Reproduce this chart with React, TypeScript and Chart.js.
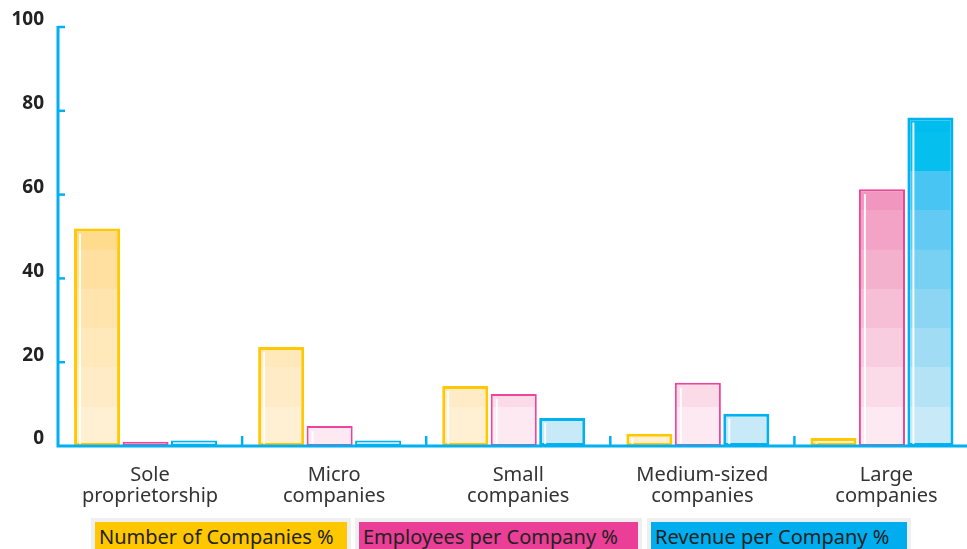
import React, { useEffect, useRef } from 'react';
import { Chart, registerables } from 'chart.js';

Chart.register(...registerables);

const categories: string[][] = [
  ['Sole', 'proprietorship'],
  ['Micro', 'companies'],
  ['Small', 'companies'],
  ['Medium-sized', 'companies'],
  ['Large', 'companies'],
];
const seriesNames = ['Number of Companies %', 'Employees per Company %', 'Revenue per Company %'];
const numberOfCompanies = [51.9, 23.6, 14.3, 2.9, 1.9];
const employeesPerCompany = [1.0, 4.8, 12.4, 15.1, 61.3];
const revenuePerCompany = [1.3, 1.3, 6.7, 7.7, 78.4];
const yTicks = [0, 20, 40, 60, 80, 100];

const seriesBorder = ['#ffc800', '#ee4499', '#00b2f0'];
const legendColors = ['#ffc700', '#eb3e96', '#00aeef'];
const seriesBorderWidth = [3, 2, 3];
const bandStep = 9.38;
const bandColors: string[][] = [
  ['#fff0d4', '#ffecc7', '#ffe8ba', '#ffe4ad', '#ffe0a0', '#ffdb8e', '#ffd67c', '#ffd26a', '#ffcd55', '#ffc940', '#ffc52a'],
  ['#fce9f1', '#fadbe7', '#f8cddf', '#f6bfd6', '#f4b1ce', '#f2a3c6', '#f096bf', '#ee88b8', '#ec7ab0', '#ea6ca8', '#e85ea0'],
  ['#c8e9f7', '#b5e3f6', '#a1dcf5', '#8cd6f4', '#78d0f3', '#62caf3', '#48c5f2', '#05c0ef', '#00bdee', '#00baee', '#00b8ee'],
];
const AXIS = '#00b0f0';
const FONT = '"Noto Sans", "Open Sans", sans-serif';
const SHIFT = 4.5;

function bandFill(seriesIndex: number) {
  return (ctx: any) => {
    const chart = ctx.chart;
    const cols = bandColors[seriesIndex];
    if (!chart.chartArea) return cols[0];
    const y = chart.scales.y;
    const n = cols.length;
    const y0 = y.getPixelForValue(0);
    const y1 = y.getPixelForValue(bandStep * n);
    const g = chart.ctx.createLinearGradient(0, y0, 0, y1);
    for (let k = 0; k < n; k++) {
      g.addColorStop(k / n, cols[k]);
      g.addColorStop(Math.min(1, (k + 1) / n - 0.0001), cols[k]);
    }
    return g;
  };
}

const decorPlugin = {
  id: 'decor',
  afterDatasetsDraw(chart: any) {
    const { ctx, chartArea: a, scales } = chart;
    ctx.save();
    chart.data.datasets.forEach((_ds: any, i: number) => {
      const meta = chart.getDatasetMeta(i);
      meta.data.forEach((bar: any) => {
        const { x, y, base, width } = bar.getProps(['x', 'y', 'base', 'width'], true);
        const h = base - y;
        if (h < 7) return;
        const lx = x - width / 2 + 6;
        ctx.strokeStyle = 'rgba(255,255,255,0.92)';
        ctx.lineWidth = 2;
        ctx.beginPath();
        ctx.moveTo(lx, y + 5);
        ctx.lineTo(lx, base - 2);
        ctx.stroke();
      });
    });
    const ax = a.left + SHIFT;
    ctx.strokeStyle = AXIS;
    ctx.lineWidth = 3;
    ctx.beginPath();
    ctx.moveTo(ax, a.top - 1);
    ctx.lineTo(ax, a.bottom);
    ctx.moveTo(ax - 1.5, a.bottom);
    ctx.lineTo(a.right + 10, a.bottom);
    ctx.stroke();
    ctx.lineWidth = 2.5;
    yTicks.forEach((v) => {
      if (v === 0) return;
      const py = scales.y.getPixelForValue(v);
      ctx.beginPath();
      ctx.moveTo(ax, py);
      ctx.lineTo(ax + 7, py);
      ctx.stroke();
    });
    for (let i = 1; i < categories.length; i++) {
      const px = (scales.x.getPixelForValue(i - 1) + scales.x.getPixelForValue(i)) / 2 + SHIFT;
      ctx.beginPath();
      ctx.moveTo(px, a.bottom);
      ctx.lineTo(px, a.bottom - 10);
      ctx.stroke();
    }
    ctx.restore();
  },
};

export default function App() {
  const ref = useRef<HTMLCanvasElement | null>(null);
  useEffect(() => {
    if (!ref.current) return;
    const values = [numberOfCompanies, employeesPerCompany, revenuePerCompany];
    const chart = new Chart(ref.current, {
      type: 'bar',
      data: {
        labels: categories,
        datasets: values.map((v, i) => ({
          label: seriesNames[i],
          data: v,
          backgroundColor: bandFill(i),
          borderColor: seriesBorder[i],
          borderWidth: (c: any) => {
            const val = c.raw as number;
            return i === 2 && val !== undefined && val < 3 ? 2 : seriesBorderWidth[i];
          },
          borderSkipped: false,
          categoryPercentage: 0.79,
          barPercentage: 0.95,
        })),
      },
      options: {
        animation: false,
        responsive: false,
        devicePixelRatio: 1,
        layout: { padding: { top: 27, left: 0, right: 0, bottom: 0 } },
        plugins: { legend: { display: false }, tooltip: { enabled: false } },
        scales: {
          y: {
            min: 0,
            max: 100,
            afterFit: (s: any) => { s.width = 58 - SHIFT; },
            border: { display: false },
            grid: { display: false, drawTicks: false },
            ticks: {
              stepSize: 20,
              padding: 14 - SHIFT,
              labelOffset: -7,
              color: '#222',
              font: { family: FONT, size: 19, weight: 'bold' },
            },
          },
          x: {
            afterFit: (s: any) => { s.height = 66; },
            border: { display: false },
            grid: { display: false, drawTicks: false },
            ticks: {
              padding: 19,
              labelOffset: SHIFT,
              color: '#333',
              font: { family: FONT, size: 20, lineHeight: 1.05 },
              maxRotation: 0,
              autoSkip: false,
            },
          },
        },
      },
      plugins: [decorPlugin],
    });
    return () => chart.destroy();
  }, []);

  const legendPos = [
    { left: 91, width: 260 },
    { left: 355, width: 287 },
    { left: 647, width: 264 },
  ];

  return (
    <div style={{ position: 'absolute', left: 0, top: 0, width: 967, height: 549, overflow: 'hidden', background: '#fff' }}>
      <canvas ref={ref} width={974} height={512} style={{ display: 'block' }} />
      {seriesNames.map((name, i) => (
        <div
          key={name}
          style={{
            position: 'absolute',
            top: 518,
            left: legendPos[i].left,
            width: legendPos[i].width,
            height: 40,
            boxSizing: 'border-box',
            background: '#efefef',
            padding: '4px 4px 0 4px',
          }}
        >
          <div
            style={{
              background: legendColors[i],
              height: 34,
              paddingLeft: 4,
              fontFamily: FONT,
              fontSize: 20,
              lineHeight: '29px',
              color: '#222',
              whiteSpace: 'nowrap',
            }}
          >
            {name}
          </div>
        </div>
      ))}
    </div>
  );
}
